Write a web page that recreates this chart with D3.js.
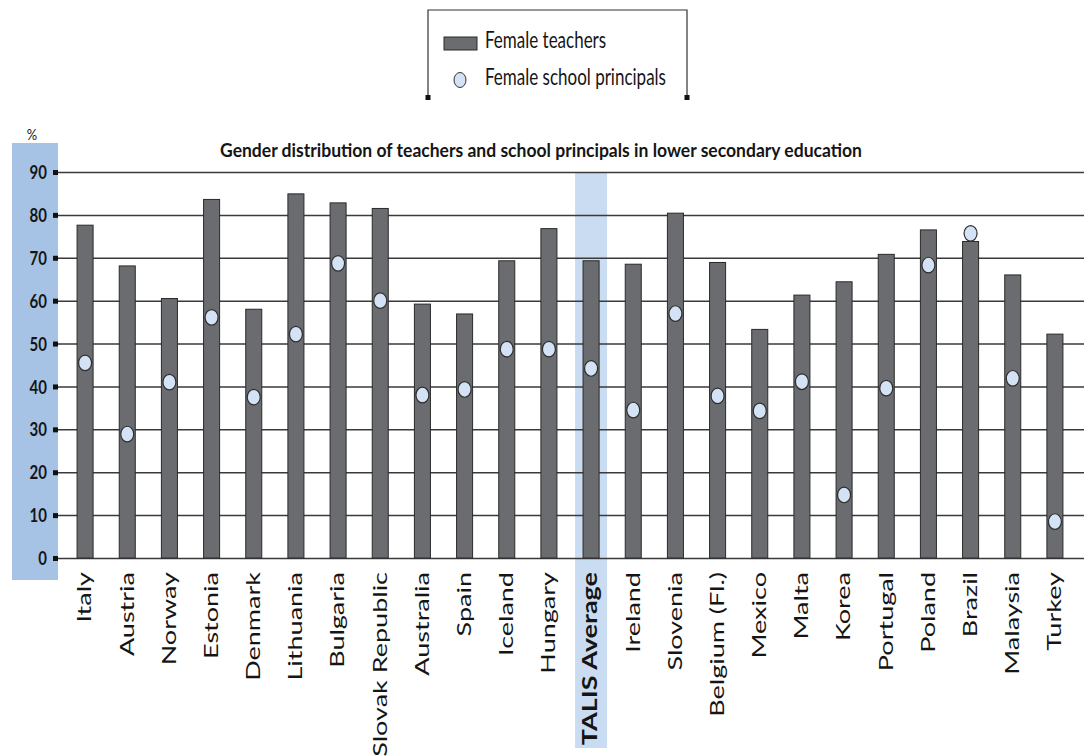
<!DOCTYPE html>
<html>
<head>
<meta charset="utf-8">
<script src="https://d3js.org/d3.v7.min.js"></script>
<style>
  body { margin: 0; background: #fff; }
  text { font-family: Lato, "Open Sans", sans-serif; fill: #151515; }
</style>
</head>
<body>
<div id="chart-area"></div>
<script>
// Gender distribution of teachers and principals (%)
var countries = ["Italy", "Austria", "Norway", "Estonia", "Denmark", "Lithuania",
    "Bulgaria", "Slovak Republic", "Australia", "Spain", "Iceland", "Hungary",
    "TALIS Average", "Ireland", "Slovenia", "Belgium (Fl.)", "Mexico", "Malta",
    "Korea", "Portugal", "Poland", "Brazil", "Malaysia", "Turkey"];
var teachers = [77.6, 68.1, 60.5, 83.6, 58.0, 84.9, 82.8, 81.5, 59.2, 56.9, 69.3, 76.8,
    69.3, 68.5, 80.4, 68.9, 53.3, 61.3, 64.4, 70.8, 76.5, 73.8, 66.0, 52.2];
var principals = [45.5, 28.9, 41.0, 56.1, 37.5, 52.2, 68.7, 60.0, 38.0, 39.3, 48.7, 48.7,
    44.2, 34.5, 57.0, 37.8, 34.3, 41.1, 14.7, 39.6, 68.3, 75.7, 41.9, 8.5];
var yTicks = [0, 10, 20, 30, 40, 50, 60, 70, 80, 90];
var highlight = "TALIS Average";
var seriesNames = ["Female teachers", "Female school principals"];

var width = 1084, height = 756;
var plot = { left: 58, right: 1084, top: 172, bottom: 558 };
var stretch = 1.3; // the source picture is stretched vertically

var svg = d3.select("#chart-area")
    .append("svg")
        .attr("width", width)
        .attr("height", height);

var x = d3.scaleBand()
    .domain(countries)
    .range([64, 1076])
    .paddingInner(0.62)
    .paddingOuter(0.31);

var y = d3.scaleLinear()
    .domain([0, 90])
    .range([plot.bottom, plot.top]);

function cx(d) { return x(d) + x.bandwidth() / 2; }

// blue band behind the y labels
svg.append("rect")
    .attr("x", 12).attr("y", 143)
    .attr("width", plot.left - 12).attr("height", 437)
    .attr("fill", "#a6c3e5");

// TALIS average highlight
svg.append("rect")
    .attr("x", cx(highlight) - 16).attr("y", y(90))
    .attr("width", 32).attr("height", 748 - y(90))
    .attr("fill", "#cadcf1");

// gridlines
var yAxis = d3.axisLeft(y)
    .tickValues(yTicks)
    .tickSize(-(plot.right - plot.left))
    .tickFormat("");
var gy = svg.append("g")
    .attr("transform", "translate(" + plot.left + ",0)")
    .call(yAxis);
gy.select(".domain").remove();
gy.selectAll(".tick line")
    .attr("stroke", "#3a3a3a")
    .attr("stroke-width", 1.5);

// tick squares + labels
gy.selectAll(".tick").append("rect")
    .attr("x", -5).attr("y", -2.5)
    .attr("width", 5).attr("height", 5)
    .attr("fill", "#111");
gy.selectAll(".tick").append("text")
    .attr("transform", "translate(-11,0) scale(1,1.25)")
    .attr("text-anchor", "end")
    .attr("dy", "0.35em")
    .attr("font-size", "15px")
    .attr("font-weight", "bold")
    .text(function(d){ return d; });

svg.append("text")
    .attr("transform", "translate(32,140) scale(1,1.25)")
    .attr("text-anchor", "middle")
    .attr("font-size", "13px")
    .text("%");

// bars
svg.selectAll(".bar")
    .data(countries)
    .enter()
    .append("rect")
        .attr("class", "bar")
        .attr("x", function(d){ return x(d); })
        .attr("y", function(d, i){ return y(teachers[i]); })
        .attr("width", x.bandwidth())
        .attr("height", function(d, i){ return y(0) - y(teachers[i]); })
        .attr("fill", "#6b6c70")
        .attr("stroke", "#2a2a2a")
        .attr("stroke-width", 1);

// principals markers
svg.selectAll(".dot")
    .data(countries)
    .enter()
    .append("ellipse")
        .attr("class", "dot")
        .attr("cx", cx)
        .attr("cy", function(d, i){ return y(principals[i]); })
        .attr("rx", 6.5)
        .attr("ry", 7.8)
        .attr("fill", "#d3e2f5")
        .attr("stroke", "#2e2e2e")
        .attr("stroke-width", 1.2);

// x labels
svg.selectAll(".xlab")
    .data(countries)
    .enter()
    .append("text")
        .attr("class", "xlab")
        .attr("transform", function(d){
            return "translate(" + cx(d) + ",572) rotate(-90) scale(1.35,1)";
        })
        .attr("text-anchor", "end")
        .attr("dy", "0.32em")
        .attr("font-size", "20px")
        .attr("font-weight", function(d){ return d === highlight ? "bold" : "normal"; })
        .text(function(d){ return d; });

// title
svg.append("text")
    .attr("transform", "translate(541,157) scale(1," + stretch + ")")
    .attr("text-anchor", "middle")
    .attr("font-size", "15px")
    .attr("font-weight", "bold")
    .attr("textLength", 642)
    .attr("lengthAdjust", "spacingAndGlyphs")
    .text("Gender distribution of teachers and school principals in lower secondary education");

// legend
var lg = svg.append("g");
lg.append("path")
    .attr("d", "M428,97 V10 H687 V97")
    .attr("fill", "none")
    .attr("stroke", "#333")
    .attr("stroke-width", 1.2);
lg.selectAll(".corner")
    .data([428, 687])
    .enter()
    .append("rect")
        .attr("x", function(d){ return d - 2.5; })
        .attr("y", 95)
        .attr("width", 5).attr("height", 5)
        .attr("fill", "#111");
lg.append("rect")
    .attr("x", 444).attr("y", 37)
    .attr("width", 33).attr("height", 13)
    .attr("fill", "#6b6c70")
    .attr("stroke", "#2a2a2a");
lg.append("ellipse")
    .attr("cx", 460).attr("cy", 80)
    .attr("rx", 6).attr("ry", 7.5)
    .attr("fill", "#d3e2f5")
    .attr("stroke", "#333");
lg.selectAll(".ltext")
    .data(seriesNames)
    .enter()
    .append("text")
        .attr("transform", function(d, i){
            return "translate(485," + (48 + i * 37) + ") scale(1," + stretch + ")";
        })
        .attr("font-size", "17px")
        .text(function(d){ return d; });
</script>
</body>
</html>
